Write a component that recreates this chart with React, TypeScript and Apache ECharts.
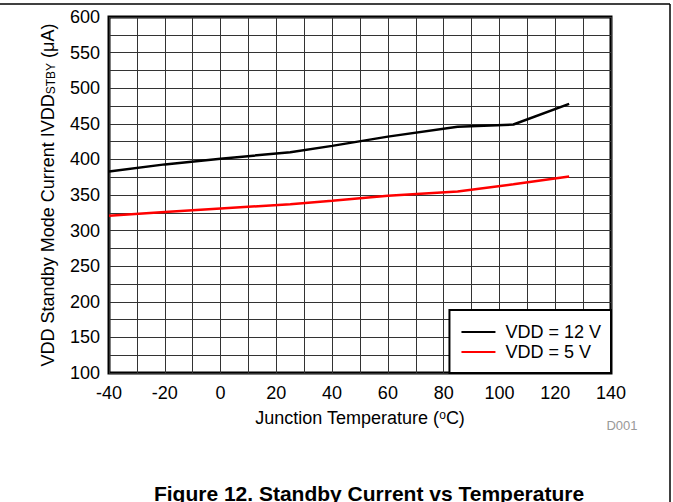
import React, { useEffect, useRef } from 'react';
import * as echarts from 'echarts';

const temps = [-40, -20, 0, 25, 40, 60, 85, 105, 125];
const vdd12 = [383, 393, 401, 410, 419, 432, 446, 449, 478];
const vdd5 = [321, 326, 331, 337, 342, 349, 355, 365, 376];
const seriesNames = ['VDD = 12 V', 'VDD = 5 V'];
const seriesColors = ['#000000', '#ff0000'];
const titleText = 'Figure 12. Standby Current vs Temperature';
const xName = '{a|Junction Temperature (}{s|o}{a|C)}';
const yName = '{a|VDD Standby Mode Current IVDD}{b|STBY}{a| (μA)}';

const FONT = '"Liberation Sans", Arial, sans-serif';

export default function App() {
  const ref = useRef<HTMLDivElement>(null);
  useEffect(() => {
    const chart = echarts.init(ref.current!, null, { renderer: 'svg' });
    const pairs = (ys: number[]) => temps.map((t, i) => [t, ys[i]]);
    chart.setOption({
      animation: false,
      backgroundColor: '#ffffff',
      textStyle: { fontFamily: FONT },
      grid: {
        left: 109,
        right: 62,
        top: 17,
        bottom: 129,
        show: true,
        borderColor: '#000',
        borderWidth: 3,
        backgroundColor: 'transparent',
      },
      xAxis: {
        type: 'value',
        min: -40,
        max: 140,
        interval: 20,
        axisLine: { show: false },
        axisTick: { show: false },
        minorTick: { show: false, splitNumber: 2 },
        splitLine: { show: true, lineStyle: { color: '#333', width: 1 } },
        minorSplitLine: { show: true, lineStyle: { color: '#333', width: 1 } },
        axisLabel: { color: '#000', fontSize: 18, margin: 11, fontFamily: FONT },
        name: xName,
        nameLocation: 'middle',
        nameGap: 36,
        nameTextStyle: {
          rich: {
            a: { fontSize: 18, color: '#000', fontFamily: FONT, lineHeight: 18 },
            s: { fontSize: 12, color: '#000', fontFamily: FONT, lineHeight: 8, verticalAlign: 'top' },
          },
        },
      },
      yAxis: {
        type: 'value',
        min: 100,
        max: 600,
        interval: 50,
        axisLine: { show: false },
        axisTick: { show: false },
        minorTick: { show: false, splitNumber: 2 },
        splitLine: { show: true, lineStyle: { color: '#333', width: 1 } },
        minorSplitLine: { show: true, lineStyle: { color: '#333', width: 1 } },
        axisLabel: { color: '#000', fontSize: 18, margin: 9, fontFamily: FONT },
        name: yName,
        nameLocation: 'middle',
        nameGap: 52,
        nameTextStyle: {
          rich: {
            a: { fontSize: 18, color: '#000', fontFamily: FONT, lineHeight: 18 },
            b: { fontSize: 12, color: '#000', fontFamily: FONT, lineHeight: 8, verticalAlign: 'bottom' },
          },
        },
      },
      legend: {
        data: seriesNames,
        orient: 'vertical',
        right: 62,
        bottom: 129,
        backgroundColor: '#fff',
        borderColor: '#000',
        borderWidth: 2,
        borderRadius: 0,
        padding: [13, 10, 12, 11],
        itemGap: 2,
        itemWidth: 34,
        itemHeight: 18,
        itemStyle: { color: 'transparent', borderWidth: 0, opacity: 0 },
        textStyle: { fontSize: 18, color: '#000', fontFamily: FONT, padding: [0, 0, 0, 5] },
      },
      series: [
        {
          name: seriesNames[0],
          type: 'line',
          data: pairs(vdd12),
          symbol: 'none',
          lineStyle: { color: seriesColors[0], width: 2.5 },
          itemStyle: { color: seriesColors[0] },
          z: 3,
        },
        {
          name: seriesNames[1],
          type: 'line',
          data: pairs(vdd5),
          symbol: 'none',
          lineStyle: { color: seriesColors[1], width: 2.5 },
          itemStyle: { color: seriesColors[1] },
          z: 3,
        },
      ],
      graphic: [
        { type: 'line', shape: { x1: 0, y1: 4, x2: 670, y2: 4 }, style: { stroke: '#000', lineWidth: 1.5 } },
        { type: 'line', shape: { x1: 670, y1: 4, x2: 670, y2: 502 }, style: { stroke: '#000', lineWidth: 1.5 } },
        {
          type: 'text',
          x: 622,
          y: 425,
          style: { text: 'D001', fill: '#999', fontSize: 13, fontFamily: FONT, textAlign: 'center', textVerticalAlign: 'middle' },
        },
        {
          type: 'text',
          x: 369,
          y: 493,
          style: { text: titleText, fill: '#000', fontSize: 21, fontWeight: 'bold', fontFamily: FONT, textAlign: 'center', textVerticalAlign: 'middle' },
        },
      ],
    });
    return () => chart.dispose();
  }, []);
  return <div ref={ref} style={{ position: 'fixed', left: 0, top: 0, width: 673, height: 502 }} />;
}
